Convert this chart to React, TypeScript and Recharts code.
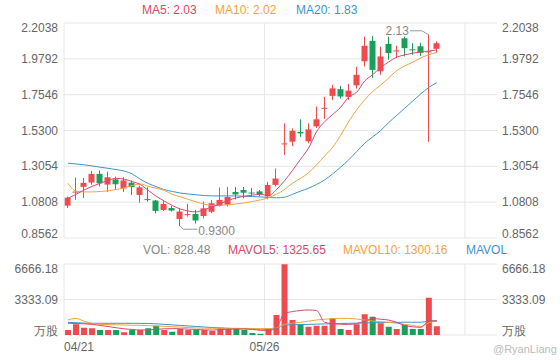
import React from "react";
import { ComposedChart, Bar, Line, XAxis, YAxis, CartesianGrid, ReferenceLine, ReferenceDot, Cell } from "recharts";

// trading days, the last ones are empty slots on the axis
const dates = [
  "04/21", "04/22", "04/23", "04/26", "04/27", "04/28", "04/29", "04/30",
  "05/03", "05/04", "05/05", "05/06", "05/07",
  "05/10", "05/11", "05/12", "05/13", "05/14",
  "05/17", "05/18", "05/19", "05/20", "05/21",
  "05/24", "05/25", "05/26", "05/27", "05/28", "05/31",
  "06/01", "06/02", "06/03", "06/04",
  "06/07", "06/08", "06/09", "06/10", "06/11",
  "06/14", "06/15", "06/16", "06/17", "06/18",
  "06/21", "06/22", "06/23", "06/24",
  "06/25", "06/28", "06/29", "06/30", "07/01", "07/02", "07/05",
];

const open = [1.059, 1.143, 1.177, 1.204, 1.258, 1.191, 1.224, 1.167, 1.203, 1.126, 1.1, 1.091, 1.032, 1.044, 0.975, 1.004, 1.007, 0.994, 1.021, 1.057, 1.065, 1.145, 1.157, 1.141, 1.148, 1.117, 1.189, 1.446, 1.46, 1.521, 1.462, 1.556, 1.669, 1.747, 1.789, 1.741, 1.813, 1.964, 2.092, 1.901, 2.073, 2.029, 2.108, 2.039, 2.058, 2.022, 2.042];
const close = [1.109, 1.147, 1.202, 1.258, 1.199, 1.237, 1.193, 1.217, 1.175, 1.174, 1.097, 1.026, 1.07, 1.028, 1.022, 1.006, 0.966, 1.042, 1.074, 1.095, 1.113, 1.129, 1.14, 1.139, 1.129, 1.189, 1.229, 1.449, 1.528, 1.512, 1.537, 1.6, 1.672, 1.794, 1.743, 1.78, 1.879, 2.061, 1.91, 1.994, 2.015, 2.032, 2.046, 2.033, 2.017, 2.026, 2.077];
const high = [1.115, 1.236, 1.233, 1.277, 1.279, 1.272, 1.241, 1.239, 1.216, 1.183, 1.174, 1.095, 1.09, 1.057, 1.044, 1.07, 1.032, 1.085, 1.095, 1.173, 1.176, 1.176, 1.176, 1.17, 1.157, 1.208, 1.292, 1.574, 1.543, 1.6, 1.575, 1.681, 1.741, 1.816, 1.81, 1.822, 1.929, 2.118, 2.122, 2.055, 2.117, 2.061, 2.118, 2.078, 2.08, 2.13, 2.088];
const low = [1.044, 1.095, 1.107, 1.19, 1.18, 1.145, 1.157, 1.145, 1.126, 1.078, 1.084, 1.011, 1.026, 1.022, 0.93, 0.99, 0.947, 0.979, 1.013, 1.053, 1.054, 1.099, 1.105, 1.115, 1.12, 1.099, 1.179, 1.377, 1.433, 1.49, 1.45, 1.546, 1.603, 1.722, 1.731, 1.722, 1.794, 1.932, 1.858, 1.879, 1.973, 1.984, 1.994, 2.004, 1.998, 1.459, 2.015];

const ma5 = [1.105, 1.13, 1.157, 1.18, 1.199, 1.218, 1.23, 1.225, 1.21, 1.192, 1.155, 1.118, 1.088, 1.06, 1.038, 1.025, 1.02, 1.035, 1.05, 1.072, 1.092, 1.108, 1.118, 1.125, 1.13, 1.122, 1.16, 1.215, 1.28, 1.35, 1.42, 1.523, 1.585, 1.63, 1.675, 1.74, 1.77, 1.84, 1.88, 1.925, 1.96, 1.99, 2.004, 2.015, 2.022, 2.028, 2.035];
const ma10 = [1.199, 1.15, 1.145, 1.145, 1.148, 1.152, 1.16, 1.17, 1.185, 1.195, 1.18, 1.168, 1.155, 1.13, 1.115, 1.098, 1.082, 1.068, 1.06, 1.062, 1.064, 1.07, 1.076, 1.085, 1.095, 1.108, 1.13, 1.16, 1.2, 1.23, 1.265, 1.315, 1.37, 1.425, 1.5, 1.585, 1.66, 1.722, 1.775, 1.815, 1.86, 1.905, 1.935, 1.958, 1.985, 2.005, 2.02];
const ma20 = [1.325, 1.32, 1.315, 1.308, 1.3, 1.293, 1.285, 1.276, 1.258, 1.225, 1.198, 1.178, 1.16, 1.148, 1.138, 1.132, 1.127, 1.122, 1.12, 1.12, 1.12, 1.12, 1.118, 1.116, 1.114, 1.11, 1.108, 1.112, 1.13, 1.15, 1.168, 1.192, 1.22, 1.258, 1.3, 1.346, 1.398, 1.45, 1.49, 1.53, 1.58, 1.625, 1.67, 1.715, 1.76, 1.8, 1.83];

const volume = [470, 1000, 690, 625, 470, 470, 470, 250, 470, 470, 625, 875, 470, 313, 563, 470, 470, 470, 375, 690, 560, 560, 470, 190, 125, 600, 1880, 6640, 1410, 1000, 780, 875, 875, 1565, 565, 470, 1000, 1940, 1720, 1095, 780, 565, 940, 565, 565, 3500, 828.48];
const mavol5 = [1100, 1080, 1050, 1000, 900, 800, 680, 580, 520, 470, 480, 530, 580, 600, 590, 550, 520, 480, 460, 510, 540, 560, 570, 520, 440, 420, 720, 2010, 2200, 2300, 2350, 2300, 1190, 1060, 1010, 990, 1080, 1300, 1540, 1480, 1400, 1180, 900, 770, 720, 1300, 1325.65];
const mavol10 = [1410, 1560, 1300, 1100, 1000, 980, 960, 940, 920, 900, 880, 860, 820, 780, 740, 700, 660, 640, 625, 625, 625, 625, 620, 610, 600, 600, 700, 1000, 1100, 1190, 1300, 1410, 1480, 1540, 1565, 1560, 1500, 1400, 1315, 1250, 1190, 1100, 1000, 900, 800, 1150, 1300.16];
const mavol20 = [1190, 1150, 1120, 1100, 1100, 1100, 1100, 1100, 1100, 1090, 1080, 1050, 1000, 950, 900, 850, 800, 750, 700, 660, 630, 600, 580, 560, 540, 540, 620, 940, 960, 980, 1000, 1020, 1040, 1060, 1080, 1100, 1110, 1130, 1150, 1170, 1190, 1190, 1200, 1200, 1200, 1300, 1350];

const priceTicks = [0.8562, 1.0808, 1.3054, 1.53, 1.7546, 1.9792, 2.2038];
const volTicks = [0, 3333.09, 6666.18];

const RED = "#ef4a4e";
const GREEN = "#1a9f5b";
const C_MA5 = "#d9486a";
const C_MA10 = "#f2a33c";
const C_MA20 = "#3c94cc";
const GRID = "#e6e6e6";
const LABEL = "#666";
const FONT = "'Liberation Sans', Arial, sans-serif";

const rows = dates.map((date, i) => ({
  date,
  open: open[i],
  close: close[i],
  high: high[i],
  low: low[i],
  ma5: ma5[i],
  ma10: ma10[i],
  ma20: ma20[i],
  vol: volume[i],
  mavol5: mavol5[i],
  mavol10: mavol10[i],
  mavol20: mavol20[i],
}));

const Candle = (props: any) => {
  const { x, y, width, height, payload } = props;
  if (payload == null || payload.open == null) return null;
  const { open: o, close: c, high: h, low: l } = payload;
  const color = c >= o ? RED : GREEN;
  const ratio = height / (h - l || 1);
  const cx = Math.round(x + width / 2) - 0.5;
  const top = y + (h - Math.max(o, c)) * ratio;
  const bodyH = Math.max(1, Math.abs(o - c) * ratio);
  return (
    <g>
      <line x1={cx} x2={cx} y1={y} y2={y + height} stroke={color} strokeWidth={1} />
      <rect x={cx - 3} y={top} width={6} height={bodyH} fill={color} />
    </g>
  );
};

const makeTick = (ticks: number[], fmt: (v: number) => string) => (props: any) => {
  const { x, y, payload, textAnchor } = props;
  const v = payload.value;
  let dy = 4;
  if (v === ticks[ticks.length - 1]) dy += 5;
  if (v === ticks[0]) dy -= 4;
  return (
    <text x={x} y={y} dy={dy} textAnchor={textAnchor} fill={LABEL} fontSize={12} fontFamily={FONT}>
      {fmt(v)}
    </text>
  );
};

const priceTick = makeTick(priceTicks, (v) => v.toFixed(4));
const volTick = makeTick(volTicks, (v) => (v === 0 ? "万股" : v.toFixed(2)));

const DateTick = (props: any) => {
  const { x, y, payload, index } = props;
  return (
    <text x={x - 4} y={y + 16} textAnchor={index === 0 ? "start" : "middle"} fill={LABEL} fontSize={12} fontFamily={FONT}>
      {payload.value}
    </text>
  );
};

const MaxMark = (props: any) => {
  const { cx, cy } = props;
  return (
    <g>
      <path d={`M${cx},${cy} L${cx - 7},${cy - 4} L${cx - 19},${cy - 4}`} stroke="#999" fill="none" />
      <text x={cx - 20} y={cy} textAnchor="end" fill="#888" fontSize={12} fontFamily={FONT}>2.13</text>
    </g>
  );
};

const MinMark = (props: any) => {
  const { cx, cy } = props;
  return (
    <g>
      <path d={`M${cx},${cy} L${cx + 3},${cy + 3} L${cx + 17},${cy + 3}`} stroke="#999" fill="none" />
      <text x={cx + 18} y={cy + 9} fill="#888" fontSize={12} fontFamily={FONT}>0.9300</text>
    </g>
  );
};

const legend = (text: string, left: number, top: number, color: string) => (
  <div
    style={{
      position: "absolute",
      left,
      top,
      fontSize: 12,
      lineHeight: "14px",
      color,
      whiteSpace: "nowrap",
      fontFamily: FONT,
    }}
  >
    {text}
  </div>
);

const frameLines = () => [
  <ReferenceLine key="l0" x={dates[0]} yAxisId="left" position="start" stroke={GRID} />,
  <ReferenceLine key="l25" x={dates[25]} yAxisId="left" position="start" stroke={GRID} />,
  <ReferenceLine key="l50" x={dates[50]} yAxisId="left" position="start" stroke={GRID} />,
  <ReferenceLine key="l53" x={dates[53]} yAxisId="left" position="end" stroke={GRID} />,
];

export default function App() {
  return (
    <div style={{ position: "absolute", left: 0, top: 0, width: 560, height: 360, background: "#fff", overflow: "hidden" }}>
      <div style={{ position: "absolute", left: 0, top: 0 }}>
        <ComposedChart width={560} height={250} data={rows} margin={{ top: 23, right: 0, bottom: 12, left: 0 }}>
          <CartesianGrid yAxisId="left" vertical={false} stroke={GRID} />
          <XAxis dataKey="date" hide />
          <YAxis yAxisId="left" domain={[0.8562, 2.2038]} ticks={priceTicks} interval={0} width={64} axisLine={false} tickLine={false} tickSize={0} tickMargin={6} tick={priceTick} allowDataOverflow />
          <YAxis yAxisId="right" orientation="right" domain={[0.8562, 2.2038]} ticks={priceTicks} interval={0} width={63} axisLine={false} tickLine={false} tickSize={0} tickMargin={5} tick={priceTick} allowDataOverflow />
          {frameLines()}
          <Bar yAxisId="left" dataKey={(d: any) => (d.open == null ? null : [d.low, d.high])} barSize={6} shape={Candle} isAnimationActive={false} />
          <Line yAxisId="left" type="monotone" dataKey="ma20" stroke={C_MA20} strokeWidth={1} dot={false} activeDot={false} isAnimationActive={false} />
          <Line yAxisId="left" type="monotone" dataKey="ma10" stroke={C_MA10} strokeWidth={1} dot={false} activeDot={false} isAnimationActive={false} />
          <Line yAxisId="left" type="monotone" dataKey="ma5" stroke={C_MA5} strokeWidth={1} dot={false} activeDot={false} isAnimationActive={false} />
          <ReferenceDot yAxisId="left" x={dates[45]} y={2.13} shape={MaxMark} />
          <ReferenceDot yAxisId="left" x={dates[14]} y={0.93} shape={MinMark} />
        </ComposedChart>
      </div>
      <div style={{ position: "absolute", left: 0, top: 240 }}>
        <ComposedChart width={560} height={120} data={rows} margin={{ top: 24, right: 0, bottom: 0, left: 0 }}>
          <CartesianGrid yAxisId="left" vertical={false} stroke={GRID} />
          <XAxis dataKey="date" ticks={[dates[0], dates[25]]} interval={0} height={25} axisLine={false} tickLine={false} tickSize={0} tickMargin={0} tick={DateTick} />
          <YAxis yAxisId="left" domain={[0, 6666.18]} ticks={volTicks} interval={0} width={64} axisLine={false} tickLine={false} tickSize={0} tickMargin={6} tick={volTick} allowDataOverflow />
          <YAxis yAxisId="right" orientation="right" domain={[0, 6666.18]} ticks={volTicks} interval={0} width={63} axisLine={false} tickLine={false} tickSize={0} tickMargin={5} tick={volTick} allowDataOverflow />
          {frameLines()}
          <Bar yAxisId="left" dataKey="vol" barSize={6} isAnimationActive={false}>
            {rows.map((r, i) => (
              <Cell key={i} fill={r.close >= r.open ? RED : GREEN} />
            ))}
          </Bar>
          <Line yAxisId="left" type="monotone" dataKey="mavol20" stroke={C_MA20} strokeWidth={1} dot={false} activeDot={false} isAnimationActive={false} />
          <Line yAxisId="left" type="monotone" dataKey="mavol10" stroke={C_MA10} strokeWidth={1} dot={false} activeDot={false} isAnimationActive={false} />
          <Line yAxisId="left" type="monotone" dataKey="mavol5" stroke={C_MA5} strokeWidth={1} dot={false} activeDot={false} isAnimationActive={false} />
        </ComposedChart>
      </div>
      {legend("MA5: 2.03", 142, 3, C_MA5)}
      {legend("MA10: 2.02", 215, 3, C_MA10)}
      {legend("MA20: 1.83", 296, 3, C_MA20)}
      {legend("VOL: 828.48", 143, 243, "#888")}
      {legend("MAVOL5: 1325.65", 228, 243, C_MA5)}
      {legend("MAVOL10: 1300.16", 343, 243, C_MA10)}
      {legend("MAVOL", 466, 243, C_MA20)}
      <div style={{ position: "absolute", left: 493, top: 343, fontSize: 11, lineHeight: "13px", color: "#bbb", fontFamily: FONT }}>@RyanLiang</div>
    </div>
  );
}
